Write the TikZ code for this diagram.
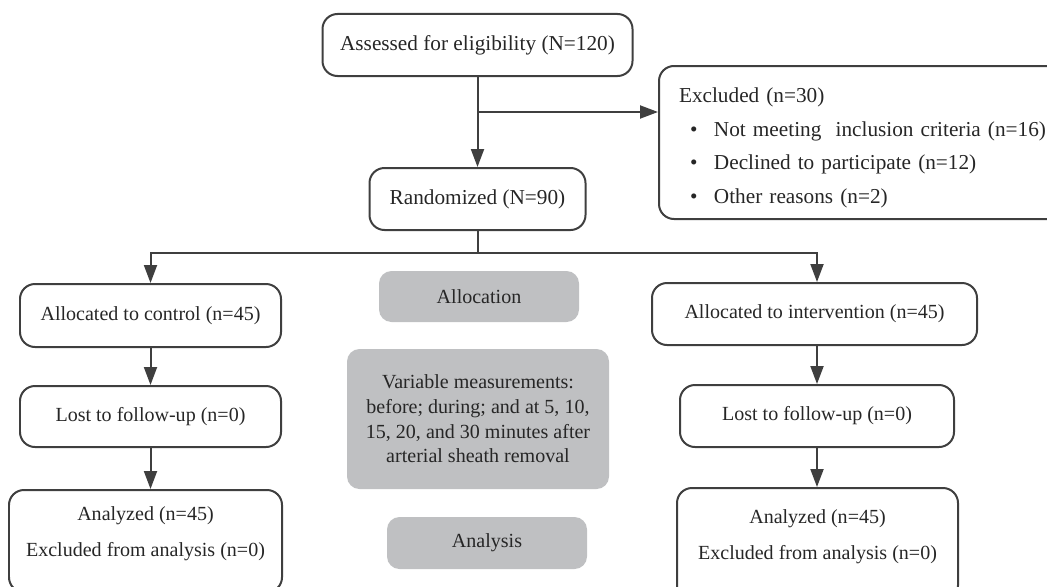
\documentclass[tikz,border=0pt]{standalone}
\usepackage{fontspec}
\setmainfont{Liberation Serif}
\usetikzlibrary{arrows.meta}
\definecolor{linegray}{HTML}{3F3F3F}
\definecolor{boxgray}{HTML}{BFC0C2}
\definecolor{txtgray}{HTML}{262626}
\tikzset{
  box/.style={draw=linegray, line width=0.04cm, rounded corners=0.3cm, align=center, inner sep=0pt, text=txtgray, font=\fontsize{11.4}{20.4}\selectfont},
  topbox/.style={box, font=\fontsize{12.1}{19}\selectfont},
  graybox/.style={fill=boxgray, rounded corners=0.25cm, align=center, inner sep=0pt, text=txtgray, font=\fontsize{11.4}{14}\selectfont},
  arr/.style={draw=linegray, line width=0.04cm, -{Triangle[length=0.36cm,width=0.26cm]}},
  link/.style={draw=linegray, line width=0.04cm}
}
\begin{document}
\begin{tikzpicture}
  \useasboundingbox (0,0) rectangle (20.94,-11.72);

  \node[topbox, minimum width=6.2cm, minimum height=1.24cm] (assess) at (9.55,-0.90) {Assessed for eligibility (N=120)};
  \node[topbox, anchor=north west, minimum height=3.06cm, text width=8.6cm, inner xsep=0.4cm, align=left] (excl) at (13.16,-1.30) {\rule{0pt}{0.51cm}Excluded (n=30)\\
    \hspace*{0.22cm}\textbullet\hspace{0.33cm}Not meeting\ \ inclusion criteria (n=16)\\
    \hspace*{0.22cm}\textbullet\hspace{0.33cm}Declined to participate (n=12)\\
    \hspace*{0.22cm}\textbullet\hspace{0.33cm}Other reasons (n=2)};
  \node[topbox, minimum width=4.32cm, minimum height=1.24cm] (rand) at (9.55,-3.98) {Randomized (N=90)};
  \coordinate (brk) at (9.55,-2.24);
  \coordinate (split) at (9.55,-5.06);

  \node[box, minimum width=5.22cm, minimum height=1.26cm] (ctrl) at (3.01,-6.31) {Allocated to control (n=45)};
  \node[box, minimum width=5.22cm, minimum height=1.22cm] (lostc) at (3.01,-8.33) {Lost to follow-up (n=0)};
  \node[box, anchor=north, minimum width=5.46cm, inner ysep=0.33cm] (anac) at (2.91,-9.78) {Analyzed (n=45)\\Excluded from analysis (n=0)\rule[-0.39cm]{0pt}{0pt}};

  \node[box, minimum width=6.5cm, minimum height=1.24cm] (intv) at (16.29,-6.28) {Allocated to intervention (n=45)};
  \node[box, minimum width=5.48cm, minimum height=1.24cm] (losti) at (16.34,-8.32) {Lost to follow-up (n=0)};
  \node[box, anchor=north, minimum width=5.62cm, inner ysep=0.43cm] (anai) at (16.35,-9.74) {Analyzed (n=45)\\Excluded from analysis (n=0)\rule[-0.39cm]{0pt}{0pt}};

  \node[graybox, minimum width=4cm, minimum height=1.02cm] (alloc) at (9.58,-5.93) {Allocation};
  \node[graybox, minimum width=5.24cm, minimum height=2.8cm] (meas) at (9.56,-8.38) {Variable measurements:\\before; during; and at 5, 10,\\15, 20, and 30 minutes after\\arterial sheath removal};
  \node[graybox, minimum width=4cm, minimum height=1.04cm] (anl) at (9.74,-10.86) {Analysis};

  \draw[arr] (assess.south) -- (rand.north);
  \draw[arr] (brk) -- (brk -| excl.west);
  \draw[link] (rand.south) -- (split);
  \draw[arr] (split) -| (ctrl.north);
  \draw[arr] (split) -| (losti.north |- intv.north);
  \draw[arr] (ctrl.south) -- (lostc.north);
  \draw[arr] (lostc.south) -- (lostc.south |- anac.north);
  \draw[arr] (intv.south -| losti.north) -- (losti.north);
  \draw[arr] (losti.south) -- (losti.south |- anai.north);
\end{tikzpicture}
\end{document}
